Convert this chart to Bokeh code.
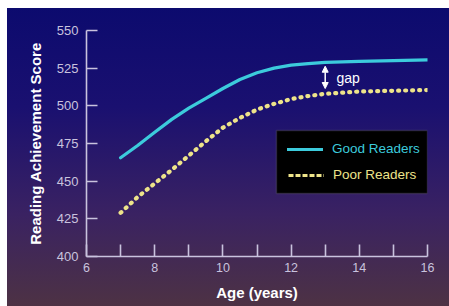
from bokeh.plotting import figure
from bokeh.models import (FixedTicker, Legend, LegendItem, BoxAnnotation, Arrow,
                          NormalHead, Label, Range1d)
from bokeh.embed import file_html
from bokeh.resources import INLINE

ages = [7, 7.5, 8, 8.5, 9, 9.5, 10, 10.5, 11, 11.5, 12, 12.5, 13, 14, 15, 16]
good_readers = [465.5, 473.7, 482.5, 491, 498.5, 505, 511.5, 517.5, 522, 525, 527,
                528, 528.8, 529.5, 530, 530.5]
poor_readers = [429, 439.5, 448.5, 457.5, 467, 476.5, 485.5, 492, 497.5, 501.3, 504.5,
                506.5, 508, 509.5, 510, 510.5]
x_major_ticks = [6, 8, 10, 12, 14, 16]
x_minor_ticks = [7, 9, 11, 13, 15]
y_ticks = [400, 425, 450, 475, 500, 525, 550]
gap_age = 13

FONT = "Liberation Sans"
AXIS_COL = "#c9c3de"
GOOD_COL = "#3ccbdc"
POOR_COL = "#eee48a"

p = figure(width=449, height=306, output_backend="svg", toolbar_location=None,
           x_range=Range1d(6, 16), y_range=Range1d(400, 550),
           min_border_left=86, min_border_right=22, min_border_top=30,
           min_border_bottom=50)
p.styles = {"background": (
    "linear-gradient(white, white) left top / 100% 8px no-repeat, "
    "linear-gradient(white, white) left top / 7px 100% no-repeat, "
    "linear-gradient(180deg, #0b0a6e 0%, #1a1070 35%, #3a2262 70%, #4d3244 100%)")}
p.background_fill_color = None
p.border_fill_color = None
p.outline_line_color = None
p.grid.visible = False

good_r = p.line(ages, good_readers, line_color=GOOD_COL, line_width=3.2,
                line_cap="round", line_join="round")
p.line(ages, poor_readers, line_color=POOR_COL, line_width=4.2, line_dash="1 6",
       line_cap="round", line_join="round")
# legend-only swatch for the dashed style shown in the legend box
# (a single-point line draws nothing on the plot)
poor_swatch = p.line(ages[:1], poor_readers[:1], line_color=POOR_COL, line_width=3,
                     line_dash="5 2")

for ax in (p.xaxis[0], p.yaxis[0]):
    ax.axis_line_color = AXIS_COL
    ax.axis_line_width = 1.6
    ax.major_tick_line_color = AXIS_COL
    ax.minor_tick_line_color = AXIS_COL
    ax.major_tick_line_width = 1.6
    ax.minor_tick_line_width = 1.6
    ax.major_label_text_color = AXIS_COL
    ax.major_label_text_font = FONT
    ax.axis_label_text_color = "white"
    ax.axis_label_text_font = FONT
    ax.axis_label_text_font_style = "bold"
    ax.axis_label_text_font_size = "15px"

p.xaxis.ticker = FixedTicker(ticks=x_major_ticks, minor_ticks=x_minor_ticks)
p.xaxis.major_tick_in = 12
p.xaxis.major_tick_out = 0
p.xaxis.minor_tick_in = 12
p.xaxis.minor_tick_out = 0
p.xaxis.major_label_standoff = 6
p.xaxis.major_label_text_font_size = "12.5px"
p.xaxis.axis_label = "Age (years)"
p.xaxis.axis_label_standoff = 9

p.yaxis.ticker = FixedTicker(ticks=y_ticks)
p.yaxis.major_tick_in = 11
p.yaxis.major_tick_out = 0
p.yaxis.minor_tick_in = 0
p.yaxis.minor_tick_out = 0
p.yaxis.major_label_standoff = 8
p.yaxis.major_label_text_font_size = "13px"
p.yaxis.axis_label = "Reading Achievement Score"
p.yaxis.axis_label_standoff = 10

# legend box
p.add_layout(BoxAnnotation(left=11.57, right=16.0, bottom=441.8, top=483.6,
                           fill_color="black", fill_alpha=1.0,
                           line_color="#6f6a80", line_width=1.5))

def make_legend(label, renderer, color, loc):
    lg = Legend(items=[LegendItem(label=label, renderers=[renderer])],
                location=loc, background_fill_alpha=0, border_line_color=None,
                padding=0, margin=0, glyph_width=36, glyph_height=14,
                label_height=14, label_standoff=9,
                label_text_color=color, label_text_font=FONT,
                label_text_font_size="13.5px")
    p.add_layout(lg)

make_legend("Good Readers", good_r, GOOD_COL, (201, 100))
make_legend("Poor Readers", poor_swatch, POOR_COL, (202, 74))

# gap arrow
gi = ages.index(gap_age)
p.add_layout(Arrow(x_start=gap_age, x_end=gap_age,
                   y_start=poor_readers[gi] + 3.5, y_end=good_readers[gi] - 2.5,
                   line_color="white", line_width=1.5,
                   start=NormalHead(size=6, fill_color="white", line_color="white"),
                   end=NormalHead(size=6, fill_color="white", line_color="white")))
p.add_layout(Label(x=gap_age + 0.33, y=(good_readers[gi] + poor_readers[gi]) / 2,
                   text="gap", text_color="white", text_font=FONT,
                   text_font_size="14px", text_baseline="middle"))

open("out.html", "w").write(file_html(p, INLINE))
